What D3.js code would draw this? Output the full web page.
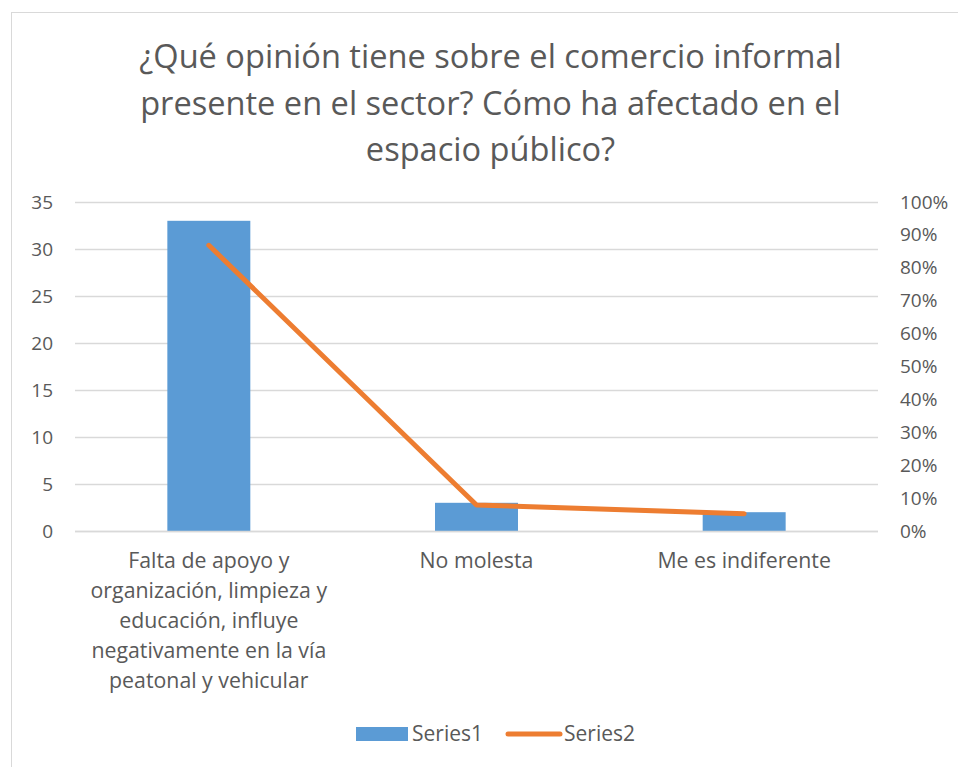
<!DOCTYPE html>
<html>
<head>
<meta charset="utf-8">
<script src="https://cdn.jsdelivr.net/npm/d3@7"></script>
<style>
  html, body { margin: 0; padding: 0; background: #ffffff; }
  svg text { font-family: "Open Sans", Lato, sans-serif; fill: #595959; }
</style>
</head>
<body>
<svg id="chart" width="958" height="767"></svg>
<script>
// Survey responses
const categories = [
  "Falta de apoyo y organización, limpieza y educación, influye negativamente en la vía peatonal y vehicular",
  "No molesta",
  "Me es indiferente"
];
const categoryLines = [
  ["Falta de apoyo y", "organización, limpieza y", "educación, influye", "negativamente en la vía", "peatonal y vehicular"],
  ["No molesta"],
  ["Me es indiferente"]
];
const series1 = [33, 3, 2];
const total = d3.sum(series1);
const series2 = series1.map(v => v / total);
const leftTicks = [0, 5, 10, 15, 20, 25, 30, 35];
const rightTicks = [0, 0.1, 0.2, 0.3, 0.4, 0.5, 0.6, 0.7, 0.8, 0.9, 1];
const titleLines = [
  "¿Qué opinión tiene sobre el comercio informal",
  "presente en el sector? Cómo ha afectado en el",
  "espacio público?"
];
const seriesNames = ["Series1", "Series2"];

const blue = "#5B9BD5", orange = "#ED7D31", grid = "#D9D9D9";

const svg = d3.select("#chart");

// chart frame
svg.append("rect")
  .attr("x", 11.5).attr("y", 12.5)
  .attr("width", 960).attr("height", 770)
  .attr("fill", "#fff").attr("stroke", "#D9D9D9").attr("stroke-width", 1);

const plot = { left: 75, right: 878, top: 202, bottom: 531 };

const x = d3.scaleBand().domain(d3.range(categories.length))
  .range([plot.left, plot.right]).paddingInner(0.69).paddingOuter(0.345);
const yL = d3.scaleLinear().domain([0, 35]).range([plot.bottom, plot.top]);
const yR = d3.scaleLinear().domain([0, 1]).range([plot.bottom, plot.top]);

// gridlines
svg.append("g").selectAll("line").data(leftTicks).join("line")
  .attr("x1", plot.left).attr("x2", plot.right)
  .attr("y1", d => Math.round(yL(d)) + 0.5).attr("y2", d => Math.round(yL(d)) + 0.5)
  .attr("stroke", grid).attr("stroke-width", 1.3);

const tickFont = 19;

// left axis
const leftAxis = svg.append("g")
  .attr("transform", `translate(${plot.left},0)`)
  .call(d3.axisLeft(yL).tickValues(leftTicks).tickSize(0).tickPadding(22));
leftAxis.select(".domain").remove();
leftAxis.selectAll("text").attr("font-size", tickFont).style("font-family", "'Open Sans', sans-serif").attr("fill", "#595959");

// right axis
const rightAxis = svg.append("g")
  .attr("transform", `translate(${plot.right},0)`)
  .call(d3.axisRight(yR).tickValues(rightTicks).tickSize(0).tickPadding(22).tickFormat(d3.format(".0%")));
rightAxis.select(".domain").remove();
rightAxis.selectAll("text").attr("font-size", tickFont).style("font-family", "'Open Sans', sans-serif").attr("fill", "#595959");

// bars
svg.append("g").selectAll("rect").data(series1).join("rect")
  .attr("x", (d, i) => x(i))
  .attr("width", x.bandwidth())
  .attr("y", d => yL(d))
  .attr("height", d => yL(0) - yL(d))
  .attr("fill", blue);

// category axis line
svg.append("line")
  .attr("x1", plot.left).attr("x2", plot.right)
  .attr("y1", plot.bottom + 0.5).attr("y2", plot.bottom + 0.5)
  .attr("stroke", grid).attr("stroke-width", 1.3);

// line series
const cx = i => x(i) + x.bandwidth() / 2;
svg.append("path")
  .datum(series2)
  .attr("d", d3.line().x((d, i) => cx(i)).y(d => yR(d)))
  .attr("fill", "none").attr("stroke", orange).attr("stroke-width", 5)
  .attr("stroke-linecap", "round").attr("stroke-linejoin", "round");

// category labels
const catG = svg.append("g");
categoryLines.forEach((lines, i) => {
  const t = catG.append("text")
    .attr("text-anchor", "middle").attr("font-size", 21.3);
  lines.forEach((ln, j) => {
    t.append("tspan").attr("x", cx(i)).attr("y", 568 + j * 30).text(ln);
  });
});

// title
const title = svg.append("text").attr("text-anchor", "middle").attr("font-size", 32.6);
titleLines.forEach((ln, j) => {
  title.append("tspan").attr("x", 490.5).attr("y", 68 + j * 46.5).text(ln);
});

// legend
const lg = svg.append("g");
lg.append("rect").attr("x", 356).attr("y", 727).attr("width", 52).attr("height", 14).attr("fill", blue);
lg.append("text").attr("x", 412).attr("y", 741).attr("font-size", 21).text(seriesNames[0]);
lg.append("line").attr("x1", 508).attr("x2", 560).attr("y1", 734).attr("y2", 734)
  .attr("stroke", orange).attr("stroke-width", 5).attr("stroke-linecap", "round");
lg.append("text").attr("x", 564).attr("y", 741).attr("font-size", 21).text(seriesNames[1]);
</script>
</body>
</html>
